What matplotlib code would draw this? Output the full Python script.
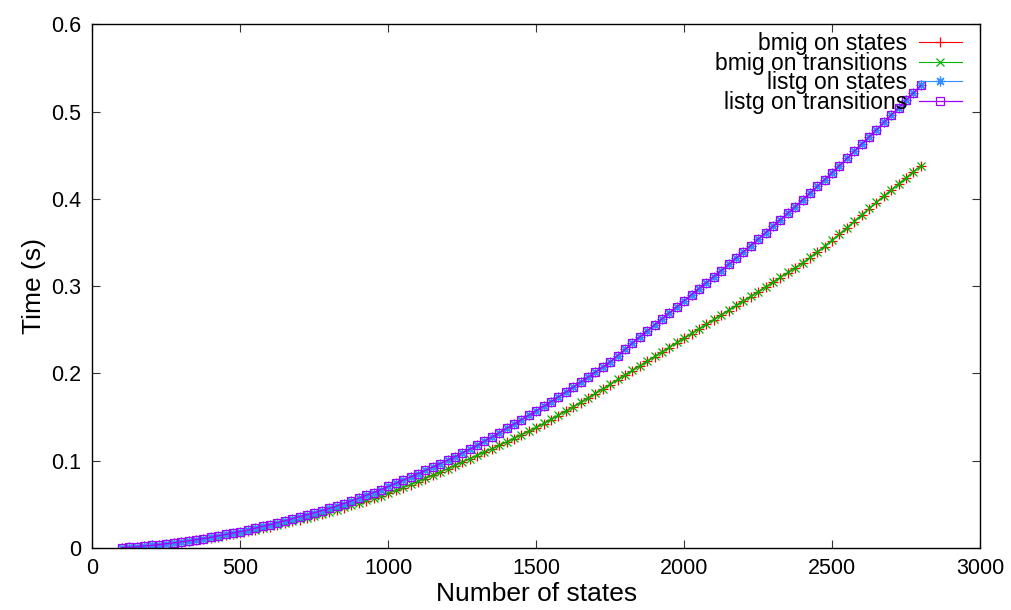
import numpy as np
import matplotlib
matplotlib.use("Agg")
from matplotlib import pyplot as plt
from matplotlib.ticker import FormatStrFormatter, MultipleLocator

plt.rcParams['font.family'] = ['Liberation Sans', 'DejaVu Sans']

# graph sizes used in the benchmark (number of states)
n_states = np.arange(100, 2825, 25)

# time in seconds
bmig_states = [
    0.0003, 0.0008, 0.0013, 0.0020, 0.0028, 0.0036, 0.0045, 0.0055, 0.0066, 0.0078,
    0.0090, 0.0103, 0.0116, 0.0130, 0.0145, 0.0160, 0.0176, 0.0193, 0.0210, 0.0228,
    0.0246, 0.0265, 0.0285, 0.0305, 0.0326, 0.0347, 0.0368, 0.0391, 0.0415, 0.0439,
    0.0464, 0.0489, 0.0515, 0.0542, 0.0570, 0.0598, 0.0627, 0.0659, 0.0692, 0.0726,
    0.0761, 0.0795, 0.0831, 0.0868, 0.0906, 0.0945, 0.0984, 0.1021, 0.1059, 0.1097,
    0.1136, 0.1175, 0.1214, 0.1254, 0.1295, 0.1336, 0.1377, 0.1423, 0.1470, 0.1518,
    0.1566, 0.1615, 0.1665, 0.1716, 0.1767, 0.1819, 0.1872, 0.1925, 0.1978, 0.2031,
    0.2084, 0.2137, 0.2190, 0.2243, 0.2296, 0.2349, 0.2402, 0.2455, 0.2508, 0.2561,
    0.2614, 0.2667, 0.2720, 0.2773, 0.2826, 0.2879, 0.2932, 0.2987, 0.3042, 0.3097,
    0.3152, 0.3207, 0.3262, 0.3324, 0.3388, 0.3454, 0.3522, 0.3592, 0.3665, 0.3738,
    0.3811, 0.3884, 0.3957, 0.4029, 0.4100, 0.4170, 0.4240, 0.4309, 0.4378,
]
bmig_trans = [
    0.0003, 0.0008, 0.0014, 0.0021, 0.0029, 0.0037, 0.0046, 0.0056, 0.0067, 0.0079,
    0.0091, 0.0104, 0.0117, 0.0131, 0.0146, 0.0161, 0.0177, 0.0194, 0.0211, 0.0229,
    0.0247, 0.0266, 0.0286, 0.0306, 0.0327, 0.0348, 0.0370, 0.0393, 0.0417, 0.0441,
    0.0466, 0.0492, 0.0518, 0.0545, 0.0573, 0.0601, 0.0630, 0.0662, 0.0695, 0.0729,
    0.0764, 0.0799, 0.0835, 0.0872, 0.0910, 0.0949, 0.0988, 0.1025, 0.1063, 0.1101,
    0.1140, 0.1179, 0.1219, 0.1259, 0.1300, 0.1341, 0.1383, 0.1429, 0.1476, 0.1524,
    0.1572, 0.1621, 0.1671, 0.1722, 0.1773, 0.1825, 0.1878, 0.1931, 0.1984, 0.2037,
    0.2090, 0.2143, 0.2196, 0.2249, 0.2302, 0.2355, 0.2408, 0.2461, 0.2514, 0.2567,
    0.2620, 0.2673, 0.2726, 0.2779, 0.2832, 0.2885, 0.2938, 0.2993, 0.3048, 0.3103,
    0.3158, 0.3213, 0.3268, 0.3330, 0.3394, 0.3460, 0.3528, 0.3598, 0.3671, 0.3744,
    0.3817, 0.3890, 0.3963, 0.4035, 0.4105, 0.4174, 0.4243, 0.4312, 0.4381,
]
listg_states = [
    0.0003, 0.0009, 0.0015, 0.0023, 0.0031, 0.0040, 0.0049, 0.0060, 0.0071, 0.0083,
    0.0096, 0.0109, 0.0124, 0.0139, 0.0155, 0.0172, 0.0189, 0.0208, 0.0227, 0.0247,
    0.0268, 0.0289, 0.0312, 0.0335, 0.0359, 0.0382, 0.0405, 0.0429, 0.0454, 0.0481,
    0.0510, 0.0540, 0.0571, 0.0603, 0.0636, 0.0670, 0.0705, 0.0741, 0.0778, 0.0814,
    0.0852, 0.0889, 0.0928, 0.0967, 0.1007, 0.1048, 0.1089, 0.1132, 0.1175, 0.1223,
    0.1271, 0.1321, 0.1371, 0.1421, 0.1471, 0.1520, 0.1572, 0.1624, 0.1678, 0.1732,
    0.1787, 0.1843, 0.1900, 0.1957, 0.2015, 0.2073, 0.2133, 0.2203, 0.2275, 0.2347,
    0.2418, 0.2489, 0.2557, 0.2625, 0.2694, 0.2763, 0.2834, 0.2903, 0.2972, 0.3041,
    0.3110, 0.3179, 0.3249, 0.3320, 0.3392, 0.3465, 0.3538, 0.3612, 0.3686, 0.3760,
    0.3835, 0.3911, 0.3988, 0.4065, 0.4143, 0.4221, 0.4301, 0.4382, 0.4463, 0.4545,
    0.4627, 0.4710, 0.4793, 0.4877, 0.4960, 0.5045, 0.5130, 0.5215, 0.5300,
]
listg_trans = [
    0.0003, 0.0009, 0.0015, 0.0023, 0.0031, 0.0039, 0.0049, 0.0059, 0.0071, 0.0083,
    0.0095, 0.0109, 0.0123, 0.0139, 0.0155, 0.0171, 0.0189, 0.0207, 0.0227, 0.0247,
    0.0267, 0.0289, 0.0311, 0.0335, 0.0359, 0.0381, 0.0404, 0.0428, 0.0453, 0.0481,
    0.0510, 0.0540, 0.0571, 0.0603, 0.0636, 0.0670, 0.0705, 0.0741, 0.0777, 0.0814,
    0.0851, 0.0889, 0.0927, 0.0967, 0.1007, 0.1047, 0.1089, 0.1131, 0.1175, 0.1223,
    0.1271, 0.1321, 0.1371, 0.1421, 0.1470, 0.1520, 0.1572, 0.1624, 0.1678, 0.1732,
    0.1787, 0.1843, 0.1900, 0.1957, 0.2015, 0.2073, 0.2133, 0.2203, 0.2275, 0.2347,
    0.2418, 0.2489, 0.2557, 0.2625, 0.2694, 0.2763, 0.2834, 0.2903, 0.2972, 0.3041,
    0.3109, 0.3179, 0.3249, 0.3320, 0.3392, 0.3465, 0.3538, 0.3612, 0.3686, 0.3760,
    0.3835, 0.3911, 0.3988, 0.4065, 0.4143, 0.4221, 0.4301, 0.4382, 0.4463, 0.4545,
    0.4627, 0.4710, 0.4793, 0.4877, 0.4960, 0.5045, 0.5130, 0.5215, 0.5300,
]

fig = plt.figure(figsize=(10.12, 6.10), dpi=100)
ax = fig.add_axes([0.0914, 0.1016, 0.877, 0.8586])

# same look as the gnuplot default line styles
ax.plot(n_states, bmig_states, color='#ff0000', lw=0.8, marker='+', ms=7.5, mew=0.9,
        label='bmig on states')
ax.plot(n_states, bmig_trans, color='#00b400', lw=0.8, marker='x', ms=6, mew=0.9,
        label='bmig on transitions')
ax.plot(n_states, listg_states, color='#2f8fff', lw=0.8, marker=(8, 2, 0), ms=7, mew=0.9,
        label='listg on states')
ax.plot(n_states, listg_trans, color='#a000ff', lw=0.9, marker='s', mfc='none', ms=6, mew=0.9,
        label='listg on transitions')

ax.set_xlim(0, 3000)
ax.set_ylim(0, 0.6)
ax.xaxis.set_major_locator(MultipleLocator(500))
ax.yaxis.set_major_locator(MultipleLocator(0.1))
ax.yaxis.set_major_formatter(FormatStrFormatter('%g'))

ax.tick_params(direction='in', length=6, width=0.8, top=True, right=True,
               labelsize=15.5, color='#333333')
ax.tick_params(axis='x', pad=7)
ax.tick_params(axis='y', pad=8)
for sp in ax.spines.values():
    sp.set_linewidth(1.0)

ax.set_xlabel('Number of states', fontsize=19, labelpad=2)
ax.set_ylabel('Time (s)', fontsize=19, labelpad=4)

ax.legend(loc='upper right', bbox_to_anchor=(0.985, 0.994), frameon=False,
          markerfirst=False, fontsize=16.5, handlelength=1.9, handletextpad=0.5,
          labelspacing=-0.15, borderaxespad=0.0, borderpad=0.2)

fig.savefig('out.png', dpi=100)
